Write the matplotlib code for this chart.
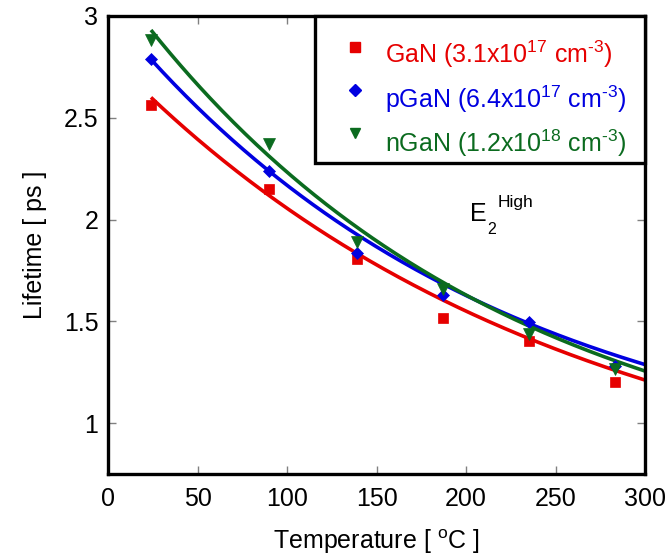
import numpy as np
import matplotlib
matplotlib.use("Agg")
import matplotlib.pyplot as plt
from matplotlib.patches import Rectangle

plt.rcParams['font.family'] = ['Liberation Sans', 'DejaVu Sans']
plt.rcParams['mathtext.fontset'] = 'custom'
plt.rcParams['mathtext.rm'] = 'Liberation Sans'
plt.rcParams['mathtext.it'] = 'Liberation Sans'
plt.rcParams['mathtext.default'] = 'regular'

# Measured E2(high) phonon lifetimes vs temperature
temperature = [24, 90, 139, 187, 235, 283]
gan = [2.563, 2.148, 1.806, 1.517, 1.404, 1.203]
pgan = [2.787, 2.240, 1.837, 1.629, 1.495, 1.282]
ngan = [2.882, 2.371, 1.888, 1.657, 1.437, 1.264]

# Fit curves: tau(T) = offset + amplitude * exp(-(T - 24) / decay)
fit_offset = [0.523, 0.718, 0.651]
fit_amplitude = [2.077, 2.069, 2.280]
fit_decay = [250.0, 214.0, 208.0]
fit_range = [24, 300]

labels = ["GaN (3.1x10$^{17}$ cm$^{\u20103}$)",
          "pGaN (6.4x10$^{17}$ cm$^{\u20103}$)",
          "nGaN (1.2x10$^{18}$ cm$^{\u20103}$)"]
colors = ["#e60000", "#0000e0", "#0b6b1f"]
markers = ["s", "D", "v"]
msizes = [7.5, 6.5, 8]

fig = plt.figure(figsize=(6.68, 5.59), dpi=100)
ax = fig.add_axes([0.1617, 0.152, 0.8039, 0.8194])

t_fit = np.linspace(fit_range[0], fit_range[1], 300)
for i, (y, c, m, ms) in enumerate(zip([gan, pgan, ngan], colors, markers, msizes)):
    curve = fit_offset[i] + fit_amplitude[i] * np.exp(-(t_fit - fit_range[0]) / fit_decay[i])
    ax.plot(t_fit, curve, color=c, lw=2.6, zorder=2, solid_capstyle='butt')
    ax.plot(temperature, y, linestyle='none', marker=m, ms=ms, color=c,
            markeredgecolor=c, markeredgewidth=0.5, zorder=3)

ax.set_xlim(0, 300)
ax.set_ylim(0.75, 3.0)
ax.set_xticks(range(0, 301, 50))
ax.set_yticks([1, 1.5, 2, 2.5, 3])
ax.set_yticklabels(["1", "1.5", "2", "2.5", "3"])
ax.tick_params(direction='in', length=6, width=1, color='#808080',
               top=True, right=True, labelsize=18)
ax.tick_params(axis='x', pad=9)
ax.tick_params(axis='y', pad=7)
for s in ax.spines.values():
    s.set_linewidth(2.4)

ax.set_xlabel("Temperature [ $^{o}$C ]", fontsize=18, labelpad=12)
ax.set_ylabel("Lifetime [ ps ]", fontsize=18, labelpad=12)

# Mode label
ax.text(202.2, 1.994, "E", fontsize=18, ha='left', va='baseline')
ax.text(212.1, 1.929, "2", fontsize=11.5, ha='left', va='baseline')
ax.text(217.9, 2.063, "High", fontsize=12.5, ha='left', va='baseline')

# Legend box in the upper right corner
ax.add_patch(Rectangle((0.3855, 0.679), 0.6145, 0.321, transform=ax.transAxes,
                       facecolor='white', edgecolor='black', lw=2.4,
                       zorder=5, clip_on=False))
leg_marker_y = [0.932, 0.838, 0.744]
leg_text_y = [0.897, 0.799, 0.703]
leg_msizes = [6.5, 6, 7]
for i in range(3):
    ax.plot([0.46], [leg_marker_y[i]], transform=ax.transAxes, marker=markers[i],
            ms=leg_msizes[i], color=colors[i], linestyle='none', zorder=6,
            clip_on=False)
    ax.text(0.5158, leg_text_y[i], labels[i], transform=ax.transAxes,
            fontsize=18, color=colors[i], ha='left', va='baseline', zorder=6)

fig.savefig("out.png", dpi=100)
